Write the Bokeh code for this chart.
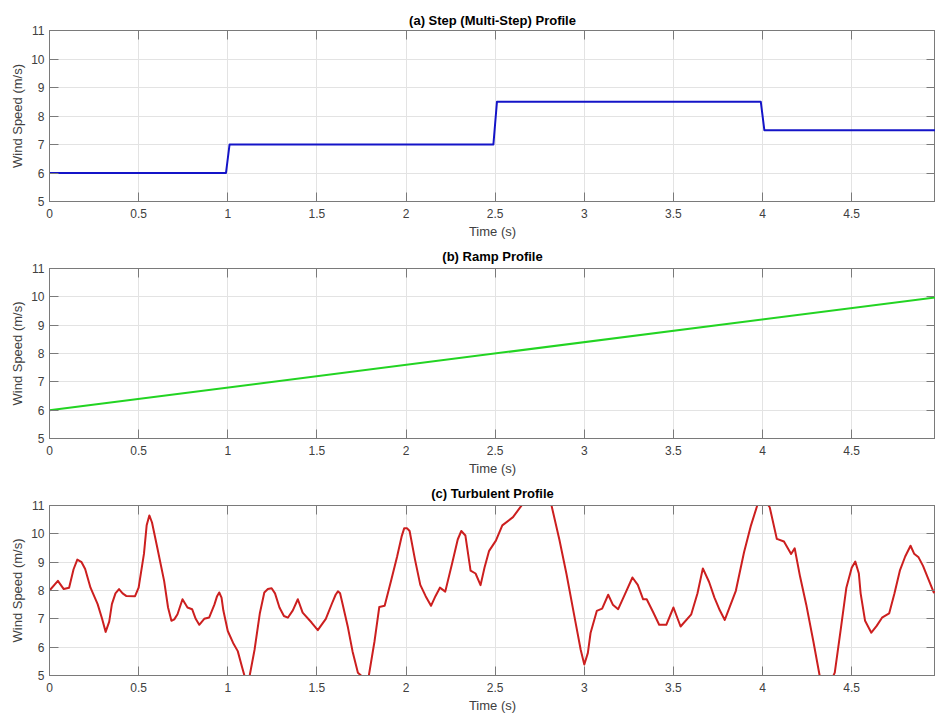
from bokeh.plotting import figure
from bokeh.layouts import column
from bokeh.models import FixedTicker, LinearAxis, CustomJSTickFormatter, Range1d
from bokeh.embed import file_html
from bokeh.resources import INLINE

# ---- data ----
x_ticks = [0, 0.5, 1, 1.5, 2, 2.5, 3, 3.5, 4, 4.5, 5]
y_ticks = [5, 6, 7, 8, 9, 10, 11]

step_t = [0, 0.99, 1.01, 2.49, 2.51, 3.99, 4.01, 5.0]
step_v = [6, 6, 7, 7, 8.5, 8.5, 7.5, 7.5]

ramp_t = [0, 5.0]
ramp_v = [6, 10]

turb_t = [0.0, 0.047, 0.08, 0.11, 0.135, 0.156, 0.18, 0.2, 0.23, 0.27, 0.295, 0.315, 0.335,
          0.35, 0.37, 0.39, 0.41, 0.43, 0.48, 0.5, 0.53, 0.545, 0.56, 0.575, 0.585, 0.605,
          0.643, 0.665, 0.684, 0.7, 0.718, 0.746, 0.774, 0.8, 0.82, 0.84, 0.868, 0.896,
          0.925, 0.94, 0.952, 0.965, 0.975, 1.0, 1.03, 1.056, 1.08, 1.1, 1.12,
          1.15, 1.18, 1.205, 1.225, 1.246, 1.265, 1.29, 1.315, 1.337, 1.365, 1.393, 1.42,
          1.47, 1.505, 1.55, 1.585, 1.605, 1.618, 1.63, 1.645, 1.674, 1.7, 1.73, 1.765,
          1.79, 1.823, 1.85, 1.88, 1.916, 1.95, 1.975, 1.99, 2.005, 2.02, 2.05, 2.08,
          2.11, 2.14, 2.165, 2.19, 2.22, 2.26, 2.29, 2.31, 2.333, 2.362, 2.39, 2.418,
          2.44, 2.466, 2.504, 2.54, 2.6, 2.655, 2.69, 2.73, 2.77, 2.816, 2.86, 2.9,
          2.95, 2.98, 3.0, 3.02, 3.035, 3.07, 3.1, 3.134, 3.16, 3.19, 3.23, 3.27, 3.3,
          3.33, 3.35, 3.385, 3.42, 3.46, 3.5, 3.54, 3.6, 3.635, 3.665, 3.7, 3.73, 3.76,
          3.788, 3.85, 3.896, 3.935, 3.97, 4.0, 4.04, 4.08, 4.12, 4.16, 4.18, 4.21,
          4.245, 4.285, 4.32, 4.355, 4.39, 4.405, 4.44, 4.47, 4.5, 4.52, 4.54, 4.55,
          4.575, 4.61, 4.64, 4.67, 4.71, 4.74, 4.77, 4.8, 4.83, 4.85, 4.875, 4.9, 4.93,
          4.96, 5.0]
turb_v = [8.0, 8.34, 8.05, 8.1, 8.75, 9.09, 9.0, 8.76, 8.1, 7.52, 7.0, 6.54, 6.9,
          7.52, 7.9, 8.05, 7.9, 7.81, 7.8, 8.1, 9.3, 10.3, 10.65, 10.4, 10.1, 9.5,
          8.34, 7.4, 6.93, 6.98, 7.16, 7.69, 7.4, 7.34, 7.0, 6.79, 7.0, 7.05,
          7.5, 7.8, 7.93, 7.75, 7.3, 6.57, 6.15, 5.86, 5.3, 4.85, 4.9,
          5.9, 7.2, 7.93, 8.05, 8.08, 7.9, 7.4, 7.1, 7.04, 7.3, 7.69, 7.22,
          6.87, 6.6, 7.0, 7.55, 7.85, 7.97, 7.9, 7.5, 6.7, 5.85, 5.1, 4.9,
          4.95, 6.2, 7.42, 7.46, 8.34, 9.2, 9.9, 10.2, 10.2, 10.1, 9.1, 8.2,
          7.8, 7.46, 7.8, 8.1, 7.96, 9.0, 9.8, 10.1, 9.94, 8.7, 8.6, 8.19,
          8.8, 9.4, 9.76, 10.3, 10.59, 11.06, 11.6, 12.0, 11.7, 11.0, 9.8, 8.58,
          6.9, 5.9, 5.39, 5.8, 6.5, 7.28, 7.36, 7.85, 7.5, 7.34, 7.9, 8.46, 8.2,
          7.69, 7.69, 7.25, 6.79, 6.79, 7.4, 6.73, 7.16, 7.9, 8.78, 8.3, 7.75, 7.3,
          6.96, 7.99, 9.35, 10.3, 11.0, 11.3, 10.94, 9.82, 9.73, 9.29, 9.49, 8.5,
          7.5, 6.2, 5.0, 4.4, 4.9, 5.1, 6.7, 8.1, 8.8, 9.02, 8.6, 7.9,
          6.93, 6.51, 6.75, 7.04, 7.19, 7.9, 8.7, 9.2, 9.58, 9.3, 9.17, 8.87, 8.4,
          7.93, 8.28]

titles = ["(a) Step (Multi-Step) Profile", "(b) Ramp Profile", "(c) Turbulent Profile"]
x_label = "Time (s)"
y_label = "Wind Speed (m/s)"

FONT = "Liberation Sans"
AX = "#7a7a7a"
TXT = "#404040"

fmt = CustomJSTickFormatter(code="return String(tick)")
blank = CustomJSTickFormatter(code="return ''")


def make_panel(title, t, v, color, height, top, bottom, title_gap):
    p = figure(width=935, height=height, output_backend="svg", toolbar_location=None,
               x_range=Range1d(0, 4.97), y_range=Range1d(5, 11),
               min_border_left=49, min_border_right=0,
               min_border_top=top, min_border_bottom=bottom)
    p.title.text = title
    p.title.align = "center"
    p.title.vertical_align = "top"
    p.title.text_font = FONT
    p.title.text_font_size = "13px"
    p.title.text_font_style = "bold"
    p.title.text_color = "#000000"
    p.title.offset = 0
    p.title.standoff = title_gap
    p.outline_line_color = AX
    p.outline_line_width = 1
    p.background_fill_color = "white"
    p.border_fill_color = "white"

    for ax in (p.xaxis[0], p.yaxis[0]):
        ax.axis_line_color = AX
        ax.major_tick_line_color = AX
        ax.major_tick_in = 9
        ax.major_tick_out = 0
        ax.minor_tick_line_color = None
        ax.major_label_text_font = FONT
        ax.major_label_text_font_size = "12px"
        ax.major_label_text_color = TXT
        ax.axis_label_text_font = FONT
        ax.axis_label_text_font_size = "13px"
        ax.axis_label_text_font_style = "normal"
        ax.axis_label_text_color = TXT
        ax.formatter = fmt
    p.xaxis[0].ticker = FixedTicker(ticks=x_ticks)
    p.yaxis[0].ticker = FixedTicker(ticks=y_ticks)
    p.xaxis[0].axis_label = x_label
    p.yaxis[0].axis_label = y_label
    p.xaxis[0].major_label_standoff = 7
    p.xaxis[0].axis_label_standoff = 3
    p.yaxis[0].major_label_standoff = 5
    p.yaxis[0].axis_label_standoff = 3

    # mirrored ticks on top and right
    for loc, tk in (("above", x_ticks), ("right", y_ticks)):
        a = LinearAxis(ticker=FixedTicker(ticks=tk), formatter=blank)
        a.major_label_standoff = 0
        a.major_tick_in = 9
        a.major_tick_out = 0
        a.minor_tick_line_color = None
        a.axis_line_color = AX
        a.major_tick_line_color = AX
        p.add_layout(a, loc)

    p.xgrid.ticker = FixedTicker(ticks=x_ticks)
    p.ygrid.ticker = FixedTicker(ticks=y_ticks)
    p.xgrid.grid_line_color = "#e3e3e3"
    p.ygrid.grid_line_color = "#e3e3e3"

    p.line(t, v, line_color=color, line_width=2, line_join="round")
    return p


pa = make_panel(titles[0], step_t, step_v, "#1414c8", 244, 30, 43, 2)
pb = make_panel(titles[1], ramp_t, ramp_v, "#22d422", 238, 24, 44, 6)
pc = make_panel(titles[2], turb_t, turb_v, "#cc1f1f", 233, 23, 35, 6)

layout = column(pa, pb, pc, spacing=0)
open("out.html", "w").write(file_html(layout, INLINE))
